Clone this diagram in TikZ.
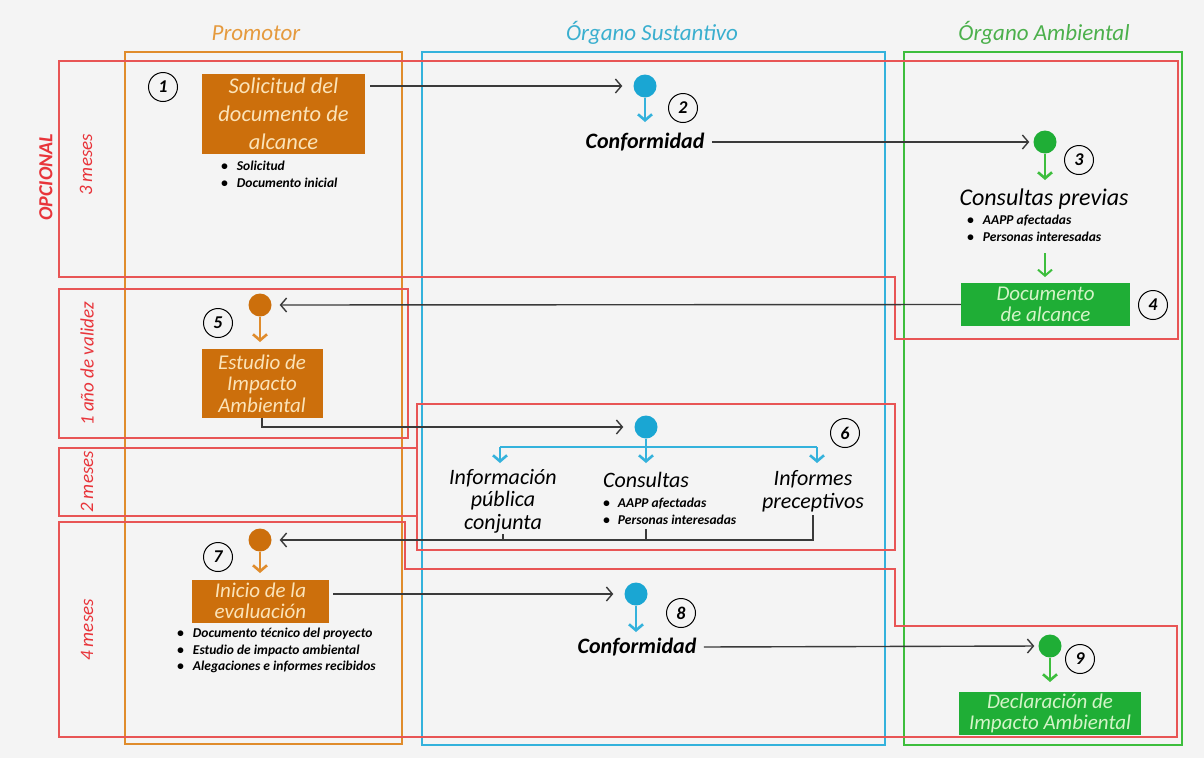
\documentclass[tikz,border=0pt]{standalone}
\usepackage{fontspec}
\setmainfont{Carlito}
\usetikzlibrary{arrows.meta}
\definecolor{oL}{HTML}{E08C2C}
\definecolor{oT}{HTML}{E59A3E}
\definecolor{oF}{HTML}{CC6F0C}
\definecolor{oX}{HTML}{FBE3B8}
\definecolor{cL}{HTML}{34B2DC}
\definecolor{cT}{HTML}{3AAFCF}
\definecolor{cD}{HTML}{1AA6D3}
\definecolor{gL}{HTML}{3DBE3D}
\definecolor{gT}{HTML}{4CB04C}
\definecolor{gF}{HTML}{1FAE36}
\definecolor{gX}{HTML}{D4F4C8}
\definecolor{rl}{HTML}{E85555}
\definecolor{rT}{HTML}{E8343A}
\definecolor{cc}{HTML}{3A3A3A}
\definecolor{bg}{HTML}{F4F4F4}
\begin{document}
\begin{tikzpicture}[x=1pt,y=-1pt,
  colframe/.style={line width=2.6pt},
  redspan/.style={draw=rl,line width=1.4pt},
  num/.style={circle,draw=black,line width=1pt,minimum size=29pt,inner sep=0pt,
    font=\fontsize{18}{18}\selectfont\bfseries\itshape},
  ball/.style={circle,fill=#1,minimum size=23pt,inner sep=0pt},
  stepbox/.style={fill=#1,inner sep=0pt,align=center},
  conn/.style={draw=cc,line width=1.4pt,-{Straight Barb[length=6pt,width=14pt]}},
  plainconn/.style={draw=cc,line width=1.4pt},
  stemline/.style={draw=#1,line width=2.6pt,-{Straight Barb[length=6pt,width=14pt]}},
  coltitle/.style={font=\fontsize{23}{23}\selectfont\itshape},
  sidelab/.style={text=rT,rotate=90,font=\fontsize{19}{19}\selectfont\itshape},
  bul/.style={anchor=north west,inner sep=0pt,align=left,
    font=\fontsize{13.5}{16.5}\selectfont\bfseries\itshape},
  bigtxt/.style={align=center,font=\fontsize{22}{22.5}\selectfont\itshape},
  boldtxt/.style={font=\fontsize{22}{22}\selectfont\bfseries\itshape},
  boxtxt/.style={font=\fontsize{21}{21.5}\selectfont\itshape}
]
\fill[bg] (0,0) rectangle (1204,758);
\useasboundingbox (0,0) rectangle (1204,758);

% column frames
\draw[colframe,draw=oL] (125,52) rectangle (402,744);
\draw[colframe,draw=cL] (422,52) rectangle (885,745);
\draw[colframe,draw=gL] (904,52) rectangle (1182,745);

\node[coltitle,text=oT] (tP) at (256,33) {Promotor};
\node[coltitle,text=cT] (tS) at (652,33) {Órgano Sustantivo};
\node[coltitle,text=gT] (tA) at (1044,33) {Órgano Ambiental};

% red time spans
\draw[redspan] (59,61) -- (1178,61) -- (1178,339) -- (895,339) -- (895,277) -- (59,277) -- cycle;
\draw[redspan] (59,289) rectangle (408,438);
\draw[redspan] (59,448) rectangle (417,516);
\draw[redspan] (417,404) rectangle (895,550);
\draw[redspan] (59,522) -- (405,522) -- (405,569) -- (895,569) -- (895,626) -- (1177,626) -- (1177,737) -- (59,737) -- cycle;

\node[sidelab,font=\fontsize{20}{20}\selectfont\bfseries\itshape] (lOp) at (46,177) {OPCIONAL};
\node[sidelab] (l3) at (86,165) {3 meses};
\node[sidelab] (l1) at (87,364) {1 año de validez};
\node[sidelab] (l2) at (87,482) {2 meses};
\node[sidelab] (l4) at (87,630) {4 meses};

% step 1
\node[num] (n1) at (163,87) {1};
\node[stepbox=oF,minimum width=163pt,minimum height=80pt,text=oX,
  font=\fontsize{22.5}{28}\selectfont\itshape] (b1) at (283.5,114) {Solicitud del\\documento de\\alcance};
\node[bul] (u1) at (221,161) {\textbullet\hspace{9pt}Solicitud\\\textbullet\hspace{9pt}Documento inicial};

% step 2
\node[ball=cD] (d2) at (645,86) {};
\coordinate (t2) at (645,122);
\draw[stemline=cL] (d2.south) -- (t2);
\node[num] (n2) at (683,108) {2};
\node[boldtxt] (cf2) at (645,142) {Conformidad};
\draw[conn,shorten <=5pt,shorten >=11pt] (b1.east |- d2) -- (d2.west);

% step 3
\node[ball=gF] (d3) at (1045,142) {};
\coordinate (t3) at (1045,180);
\draw[stemline=gL] (d3.south) -- (t3);
\node[num] (n3) at (1079,160) {3};
\draw[conn,shorten <=4pt,shorten >=4pt] (cf2.east) -- (d3.west);
\node[bigtxt,font=\fontsize{24}{24}\selectfont\itshape] (cp3) at (1044,199) {Consultas previas};
\node[bul] (u3) at (967,215) {\textbullet\hspace{9pt}AAPP afectadas\\\textbullet\hspace{9pt}Personas interesadas};
\coordinate (g1) at (1045,253);
\coordinate (g2) at (1045,277);
\draw[stemline=gL,line width=2pt] (g1) -- (g2);

% step 4
\node[stepbox=gF,boxtxt,minimum width=169pt,minimum height=43pt,text=gX] (bA) at (1045.5,304.5) {Documento\\de alcance};
\node[num] (n4) at (1153,305) {4};

% step 5
\node[ball=oF] (d5) at (260,305) {};
\coordinate (t5) at (260,342);
\draw[stemline=oL] (d5.south) -- (t5);
\node[num] (n5) at (218,323) {5};
\draw[conn,shorten >=8pt] (bA.west) -- (d5.east);
\node[stepbox=oF,boxtxt,minimum width=121pt,minimum height=69pt,text=oX] (b5) at (262,383.5) {Estudio de\\Impacto\\Ambiental};

% step 6
\node[ball=cD] (d6) at (646,427) {};
\draw[conn,shorten >=11pt] (b5.south) |- (d6.west);
\coordinate (bar6) at (646,447);
\coordinate (barL) at (500,447);
\coordinate (barR) at (817,447);
\draw[draw=cL,line width=2.6pt] (d6.south) -- (bar6);
\draw[draw=cL,line width=2.6pt] (barL) -- (barR);
\draw[stemline=cL] (barL) -- ++(0,16);
\draw[stemline=cL] (bar6) -- ++(0,16);
\draw[stemline=cL] (barR) -- ++(0,16);
\node[num] (n6) at (845,433) {6};
\node[bigtxt] (inf) at (503,501) {Información\\pública\\conjunta};
\node[bigtxt] (cons) at (646,480) {Consultas};
\node[bul] (u6) at (603,498) {\textbullet\hspace{8pt}AAPP afectadas\\\textbullet\hspace{8pt}Personas interesadas};
\node[bigtxt] (ipr) at (813,491) {Informes\\preceptivos};

% step 7
\node[ball=oF] (d7) at (260,540) {};
\draw[conn,shorten >=8pt] (ipr.south) |- (d7.east);
\draw[plainconn] (inf.south |- d7) -- ++(0,-6);
\draw[plainconn] (cons.south |- d7) -- ++(0,-11);
\coordinate (t7) at (260,573);
\draw[stemline=oL] (d7.south) -- (t7);
\node[num] (n7) at (218,557) {7};
\node[stepbox=oF,boxtxt,minimum width=137pt,minimum height=43pt,text=oX] (b7) at (260.5,601) {Inicio de la\\evaluación};
\node[bul] (u7) at (177,628) {\textbullet\hspace{9pt}Documento técnico del proyecto\\\textbullet\hspace{9pt}Estudio de impacto ambiental\\\textbullet\hspace{9pt}Alegaciones e informes recibidos};

% step 8
\node[ball=cD] (d8) at (636,594) {};
\coordinate (t8) at (636,632);
\draw[stemline=cL] (d8.south) -- (t8);
\node[num] (n8) at (681,613) {8};
\draw[conn,shorten <=4pt,shorten >=11pt] (b7.east |- d8) -- (d8.west);
\node[boldtxt] (cf8) at (637,647) {Conformidad};

% step 9
\node[ball=gF] (d9) at (1050,646) {};
\coordinate (t9) at (1050,682);
\draw[stemline=gL] (d9.south) -- (t9);
\node[num] (n9) at (1080,659) {9};
\draw[conn,shorten <=4pt,shorten >=4pt] (cf8.east) -- (d9.west);
\node[stepbox=gF,boxtxt,minimum width=182pt,minimum height=43pt,text=gX] (b9) at (1050,713.5) {Declaración de\\Impacto Ambiental};
\end{tikzpicture}
\end{document}
